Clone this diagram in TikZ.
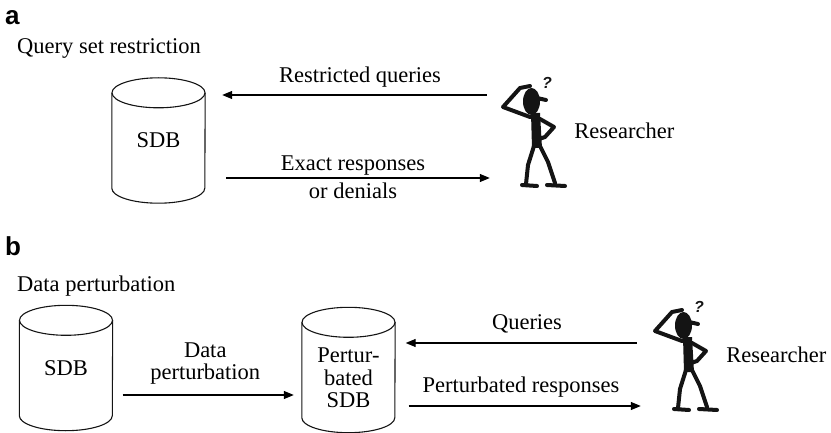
\documentclass[tikz,border=0pt]{standalone}
\usepackage{fontspec}
\setmainfont{Liberation Serif}
\setsansfont{Liberation Sans}
\usetikzlibrary{calc, positioning, arrows.meta}
\definecolor{inkBlack}{HTML}{141414}
\tikzset{
  txt/.style    = {font=\fontsize{22.5}{22.5}\selectfont, inner sep=2pt, align=center},
  panel/.style  = {font=\sffamily\bfseries\fontsize{26}{26}\selectfont, inner sep=0pt, anchor=base west},
  title/.style  = {txt, inner sep=0pt, anchor=base west},
  dbline/.style = {draw=inkBlack, line width=1.1pt},
  % database drum drawn round the node; the argument lifts the drum above the text
  db/.style     = {txt, minimum width=93pt, minimum height=125pt, inner sep=0pt,
    append after command={\pgfextra{
      \draw[dbline] ($(\tikzlastnode.north)+(0,15-#1)$) ellipse [x radius=46.5, y radius=15];
      \draw[dbline] ($(\tikzlastnode.north west)+(0,15-#1)$) -- ($(\tikzlastnode.south west)+(0,-15-#1)$)
        arc [start angle=180, end angle=0, x radius=46.5, y radius=15]
        -- ($(\tikzlastnode.north east)+(0,15-#1)$);
    }}},
  db/.default   = 0,
  person/.style = {minimum width=64pt, minimum height=112pt, inner sep=0pt},
  limb/.style   = {draw=inkBlack, line width=4pt, line cap=round, line join=round},
  qmark/.style  = {font=\sffamily\bfseries\itshape\fontsize{16}{16}\selectfont, text=inkBlack, inner sep=0pt},
  fl/.style     = {-{Triangle[length=10pt, width=8pt]}, line width=1.2pt},
  researcher/.pic = {
    % head, cap and the question
    \fill[inkBlack] (-1.5,-29.5) ellipse [x radius=8.5pt, y radius=13.5pt];
    \draw[limb] (4,-33) -- (13,-31);
    \node[qmark] at (14,-48) {?};
    % scratching arm, then the hand on the hip
    \draw[limb] (-3,-45) -- (-13,-43) -- (-30,-24) -- (-3,-14);
    \draw[limb] (7,-12) -- (21,-4) -- (12,6) -- (6,8);
    % body
    \fill[inkBlack] (-2,-18) -- (7,-18) -- (9,17) -- (-1,17) -- cycle;
    % legs and feet
    \draw[limb] (1,15) -- (-5,34) -- (-7,53) (-11,54) -- (4,55);
    \draw[limb] (7,15) -- (15,31) -- (22,52) (14,54) -- (32,55);
  }
}

\begin{document}
\begin{tikzpicture}[x=1pt, y=-1pt]
  \useasboundingbox (0,0) rectangle (831,433);

  % (a) query set restriction
  \node[panel] (tagA) at (5,25) {a};
  \node[title] (titleA) at (17,54) {Query set restriction};
  \node[db] (sdbA) at (158.5,140.5) {SDB};
  \node[person] (resA) at (533,131) {};
  \pic at (resA) {researcher};
  \node[txt, right=7pt of resA] (whoA) {Researcher};

  \draw[fl, shorten <=14pt, shorten >=17pt] (resA.west |- 0,95) -- (sdbA.east |- 0,95)
    node[txt, midway, above=5pt, xshift=7pt] (qryA) {Restricted queries};
  \draw[fl, shorten <=21pt, shorten >=11pt] (sdbA.east |- 0,178) -- (resA.west |- 0,178)
    node[txt, midway, above=0pt] (ansA) {Exact responses}
    node[txt, midway, below=2pt] (denA) {or denials};

  % (b) data perturbation
  \node[panel] (tagB) at (5,255) {b};
  \node[title] (titleB) at (17,291) {Data perturbation};
  \node[db] (sdbB) at (66,368) {SDB};
  \node[db=8] (sdbP) at (348.5,378) {Pertur-\\bated\\SDB};
  \node[person] (resB) at (685,355) {};
  \pic at (resB) {researcher};
  \node[txt, right=7pt of resB] (whoB) {Researcher};

  \draw[fl, shorten <=10pt, shorten >=8pt] (sdbB.east |- 0,395) -- (sdbP.west |- 0,395)
    node[txt, midway, above=8pt, xshift=-2pt] (pert) {Data\\perturbation};
  \draw[fl, shorten <=16pt, shorten >=10.5pt] (resB.west |- 0,343) -- (sdbP.east |- 0,343)
    node[txt, midway, above=7pt, xshift=3pt] (qryB) {Queries};
  \draw[fl, shorten <=13.5pt, shorten >=12pt] (sdbP.east |- 0,406) -- (resB.west |- 0,406)
    node[txt, midway, above=6pt, xshift=-3pt] (ansB) {Perturbated responses};
\end{tikzpicture}
\end{document}
